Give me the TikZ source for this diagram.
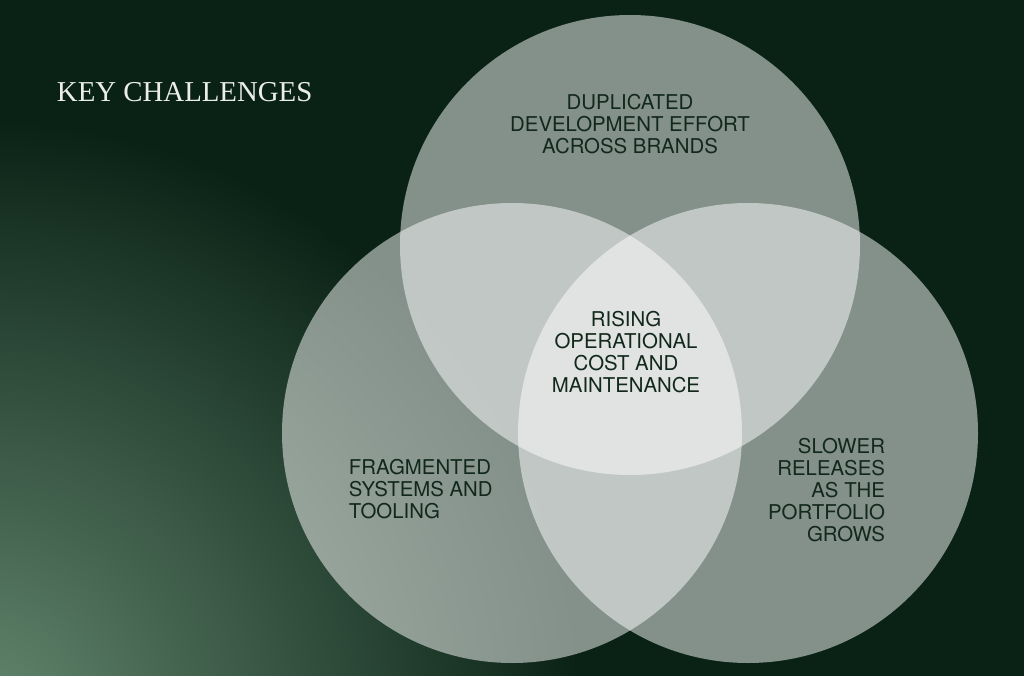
\documentclass[tikz,border=0pt]{standalone}
\usepackage{fontspec}
\setmainfont{TeX Gyre Heros}
\newfontfamily\titlefont{Liberation Serif}
\definecolor{bgdark}{RGB}{10,34,22}
\definecolor{bglight}{RGB}{100,135,110}
\definecolor{inktext}{RGB}{18,40,28}
\definecolor{titletext}{RGB}{235,238,232}
\tikzset{
  venn/.style={fill=white, fill opacity=0.5, draw=none},
  label/.style={text=inktext, font=\fontsize{14.5}{15.8}\selectfont},
}
\begin{document}
\begin{tikzpicture}[x=0.025cm, y=-0.025cm]
  \def\rad{230}
  % background
  \fill[bgdark] (0,0) rectangle (1024,676);
  \begin{scope}
    \clip (0,0) rectangle (1024,676);
    \shade[inner color=bglight, outer color=bgdark] (-20,720) circle (600);
  \end{scope}
  \useasboundingbox (0,0) rectangle (1024,676);

  \coordinate (top) at (630,245);
  \coordinate (left) at (512,433);
  \coordinate (right) at (748,433);
  \fill[venn] (top) circle (\rad);
  \fill[venn] (left) circle (\rad);
  \fill[venn] (right) circle (\rad);

  \node[text=titletext, font=\titlefont\fontsize{20.5}{24}\selectfont, anchor=west] (title) at (52,92) {KEY CHALLENGES};
  \node[label, align=center] (dup) at (630,124) {DUPLICATED\\DEVELOPMENT EFFORT\\ACROSS BRANDS};
  \node[label, align=center] (rise) at (626,352) {RISING\\OPERATIONAL\\COST AND\\MAINTENANCE};
  \node[label, align=left, anchor=west] (frag) at (344,489) {FRAGMENTED\\SYSTEMS AND\\TOOLING};
  \node[label, align=right, anchor=east] (slow) at (890,490) {SLOWER\\RELEASES\\AS THE\\PORTFOLIO\\GROWS};
\end{tikzpicture}
\end{document}
